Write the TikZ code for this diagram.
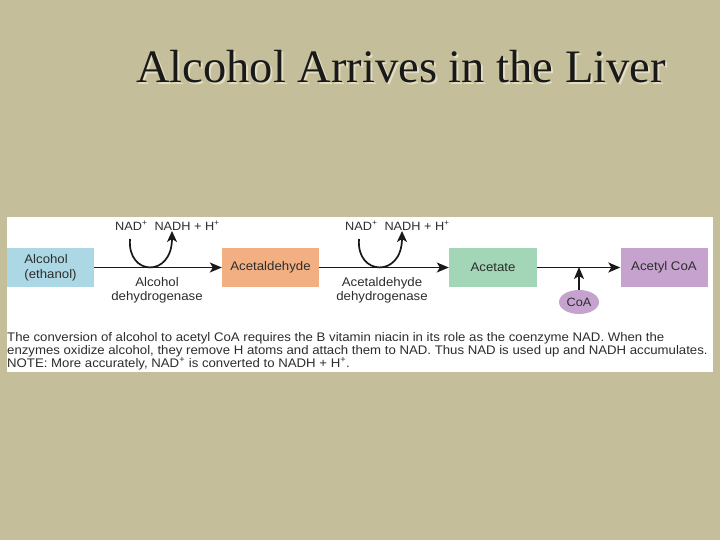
\documentclass[tikz,border=0pt]{standalone}
\usepackage{fontspec}
\setmainfont{Liberation Serif}
\newfontfamily\arialw[FakeStretch=1.06]{Liberation Sans}
\usetikzlibrary{shapes.geometric,arrows.meta}
\definecolor{bg}{RGB}{196,190,154}
\definecolor{shadowc}{RGB}{226,222,196}
\definecolor{bluebox}{RGB}{172,216,230}
\definecolor{orangebox}{RGB}{242,176,130}
\definecolor{greenbox}{RGB}{162,214,182}
\definecolor{purplebox}{RGB}{198,162,206}
\definecolor{txt}{RGB}{45,45,45}
\newcommand{\shadowtitle}[1]{\rlap{\kern2pt\raisebox{-2pt}{\textcolor{shadowc}{#1}}}#1}
\tikzset{
  box/.style={fill=#1, draw=none, minimum height=39pt, inner sep=0pt, text=txt,
    font=\arialw\fontsize{12.5}{15}\selectfont},
  lbl/.style={text=txt, inner sep=0pt, font=\arialw\fontsize{12.5}{15}\selectfont, align=center},
  nadlbl/.style={text=txt, inner sep=0pt, font=\arialw\fontsize{12}{14}\selectfont},
  arr/.style={line width=1.4pt, -{Stealth[length=12pt,width=10pt,inset=3pt]}, black!90},
  carr/.style={line width=1.7pt, -{Stealth[length=11pt,width=10pt,inset=3pt]}, black!90},
  captxt/.style={anchor=base west, inner sep=0pt, text=txt, font=\arialw\fontsize{12.45}{14}\selectfont},
}
\begin{document}
\begin{tikzpicture}[x=1pt,y=-1pt]
\fill[bg] (0,0) rectangle (720,540);
\useasboundingbox (0,0) rectangle (720,540);
% title
\node[anchor=base, text=black!90, font=\fontsize{46.5}{52}\selectfont, inner sep=0pt] (title) at (401,83) {\shadowtitle{Alcohol Arrives in the Liver}};
% panel
\fill[white] (7,217) rectangle (713,372);
% boxes
\node[box=bluebox, minimum width=87pt, align=left] (alc) at (50.5,267.5) {Alcohol\\(ethanol)};
\node[box=orangebox, minimum width=97pt] (acald) at (270.5,267.5) {Acetaldehyde};
\node[box=greenbox, minimum width=88pt] (acet) at (493,267.5) {Acetate};
\node[box=purplebox, minimum width=87pt] (acoa) at (664,267.5) {Acetyl CoA};
\node[ellipse, fill=purplebox, minimum width=40pt, minimum height=24pt, inner sep=0pt, text=txt,
  font=\arialw\fontsize{12}{14}\selectfont] (coa) at (579,302) {CoA};
% main arrows
\draw[arr] (alc) -- (acald);
\draw[arr] (acald) -- (acet);
\draw[arr] (acet) -- (acoa);
\coordinate (join) at (579,267);
\draw[arr] (coa) -- (join);
% NAD labels
\node[nadlbl, anchor=base west] (nad1) at (115,230) {NAD\textsuperscript{+}\hspace{7pt}NADH + H\textsuperscript{+}};
\node[nadlbl, anchor=base west] (nad2) at (345,230) {NAD\textsuperscript{+}\hspace{7pt}NADH + H\textsuperscript{+}};
% curved arrows
\coordinate (c1s) at (130,239);
\coordinate (c1e) at (172,231);
\draw[carr] (c1s) .. controls (127,276) and (172,278) .. (c1e);
\coordinate (c2s) at (359,239);
\coordinate (c2e) at (402,231);
\draw[carr] (c2s) .. controls (356,276) and (402,278) .. (c2e);
% enzyme labels
\node[lbl, anchor=base] (enz1a) at (157,286) {Alcohol};
\node[lbl, anchor=base] (enz1b) at (157,300) {dehydrogenase};
\node[lbl, anchor=base] (enz2a) at (382,286) {Acetaldehyde};
\node[lbl, anchor=base] (enz2b) at (382,300) {dehydrogenase};
% caption
\node[captxt] (cap1) at (7,341) {The conversion of alcohol to acetyl CoA requires the B vitamin niacin in its role as the coenzyme NAD. When the};
\node[captxt] (cap2) at (7,354) {enzymes oxidize alcohol, they remove H atoms and attach them to NAD. Thus NAD is used up and NADH accumulates.};
\node[captxt] (cap3) at (7,367) {NOTE: More accurately, NAD\textsuperscript{+} is converted to NADH + H\textsuperscript{+}.};
\end{tikzpicture}
\end{document}
